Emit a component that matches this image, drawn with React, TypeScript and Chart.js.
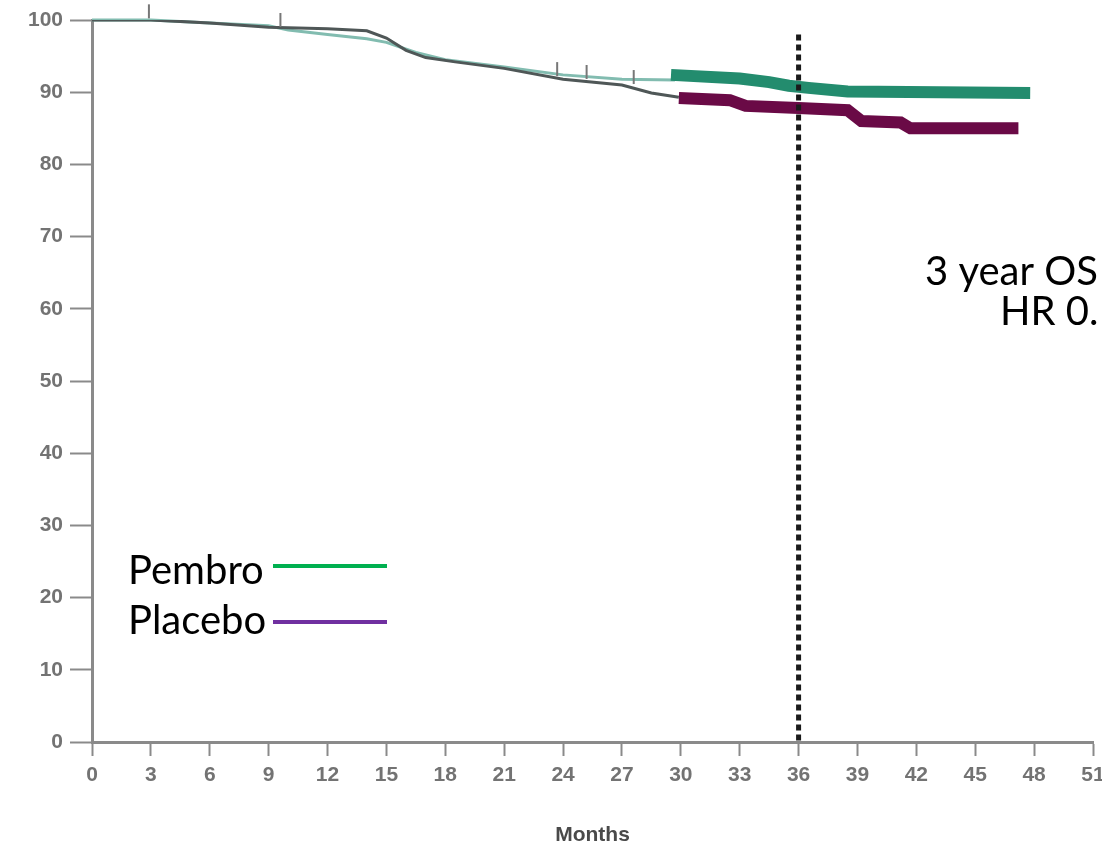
import React, { useEffect, useRef } from "react";
import { Chart, registerables } from "chart.js";

Chart.register(...registerables);

// Months tick labels
const xTicks = [0, 3, 6, 9, 12, 15, 18, 21, 24, 27, 30, 33, 36, 39, 42, 45, 48, 51];
const yTicks = [0, 10, 20, 30, 40, 50, 60, 70, 80, 90, 100];

// Early (thin) portion of curves
const pembroEarlyMonths = [0, 3, 6, 9, 10, 12, 14, 15, 16.5, 18, 21, 24, 27, 29.7];
const pembroEarlyOS = [100, 100, 99.6, 99.2, 98.6, 98.0, 97.4, 96.9, 95.5, 94.5, 93.5, 92.4, 91.8, 91.7];
const placeboEarlyMonths = [0, 3, 6, 9, 12, 14, 15, 16, 17, 18.5, 21, 24, 27, 28.5, 29.9];
const placeboEarlyOS = [100, 100, 99.6, 99.0, 98.8, 98.5, 97.5, 95.8, 94.8, 94.2, 93.3, 91.8, 91.0, 89.9, 89.3];

// Late (thick, highlighted) portion
const pembroLateMonths = [29.5, 33, 34.5, 35.5, 36.5, 38.5, 47.8];
const pembroLateOS = [92.4, 91.9, 91.4, 90.9, 90.6, 90.1, 89.9];
const placeboLateMonths = [29.9, 32.5, 33.3, 36, 38.5, 39.2, 41.2, 41.7, 47.2];
const placeboLateOS = [89.2, 88.9, 88.1, 87.8, 87.5, 86.0, 85.8, 85.0, 85.0];

// Censor marks
const censorMonths = [2.9, 9.6, 23.7, 25.2, 27.6];
const censorOS = [101.2, 100.0, 93.2, 92.8, 92.1];

// 3-year landmark line
const landmarkMonths = [36, 36];
const landmarkOS = [98, 0];

const zip = (xs: number[], ys: number[]) => xs.map((x, i) => ({ x, y: ys[i] }));

const textPlugin = {
  id: "annotText",
  afterDraw(chart: any) {
    const ctx = chart.ctx;
    ctx.save();
    ctx.font = "40px Lato, 'Open Sans', sans-serif";
    ctx.fillStyle = "#000";
    ctx.textBaseline = "alphabetic";
    ctx.textAlign = "left";
    ctx.fillText("3 year OS", 925, 285);
    ctx.fillText("HR 0.", 1000, 325);
    ctx.fillText("Pembro", 128, 584);
    ctx.fillText("Placebo", 128, 634);
    ctx.lineWidth = 4;
    ctx.strokeStyle = "#00B050";
    ctx.beginPath();
    ctx.moveTo(273, 566);
    ctx.lineTo(387, 566);
    ctx.stroke();
    ctx.strokeStyle = "#7030A0";
    ctx.beginPath();
    ctx.moveTo(273, 622);
    ctx.lineTo(387, 622);
    ctx.stroke();
    ctx.restore();
  },
};

export default function App() {
  const ref = useRef<HTMLCanvasElement | null>(null);
  useEffect(() => {
    if (!ref.current) return;
    const tickFont = { family: "'Liberation Sans Narrow', 'Liberation Sans', Arial, sans-serif", size: 21, weight: "bold" as const };
    const chart = new Chart(ref.current, {
      type: "line",
      data: {
        datasets: [
          {
            label: "landmark",
            data: zip(landmarkMonths, landmarkOS),
            borderColor: "#1a1a1a",
            borderWidth: 5,
            borderDash: [6, 4],
            pointRadius: 0,
            borderCapStyle: "butt",
          },
          {
            label: "censor",
            data: zip(censorMonths, censorOS),
            showLine: false,
            pointStyle: "line",
            rotation: 90,
            pointRadius: 7,
            borderColor: "#777",
            borderWidth: 2,
            clip: false,
          } as any,
          {
            label: "Pembro late",
            data: zip(pembroLateMonths, pembroLateOS),
            borderColor: "#238c6e",
            borderWidth: 12,
            pointRadius: 0,
            borderCapStyle: "butt",
          },
          {
            label: "Placebo late",
            data: zip(placeboLateMonths, placeboLateOS),
            borderColor: "#6a0a46",
            borderWidth: 12,
            pointRadius: 0,
            borderCapStyle: "butt",
          },
          {
            label: "Placebo",
            data: zip(placeboEarlyMonths, placeboEarlyOS),
            borderColor: "#4f5757",
            borderWidth: 3,
            pointRadius: 0,
          },
          {
            label: "Pembro",
            data: zip(pembroEarlyMonths, pembroEarlyOS),
            borderColor: "#82bcb0",
            borderWidth: 3,
            pointRadius: 0,
            clip: false,
          } as any,
        ],
      },
      options: {
        animation: false,
        responsive: false,
        layout: { padding: { top: 20, right: 7, left: 0, bottom: 0 } },
        plugins: { legend: { display: false }, tooltip: { enabled: false } },
        scales: {
          x: {
            type: "linear",
            min: 0,
            max: 51,
            afterBuildTicks: (s: any) => {
              s.ticks = xTicks.map((v) => ({ value: v }));
            },
            afterFit: (s: any) => {
              s.height = 110;
              s.paddingLeft = 0;
              s.paddingRight = 0;
            },
            ticks: { color: "#737373", font: tickFont, padding: 7, maxRotation: 0, autoSkip: false },
            grid: { drawOnChartArea: false, tickLength: 14, tickColor: "#8a8a8a", tickWidth: 2 },
            border: { color: "#8a8a8a", width: 3 },
            title: {
              display: true,
              text: "Months",
              color: "#4a4a4a",
              font: { family: "'Liberation Sans Narrow', 'Liberation Sans', Arial, sans-serif", size: 21, weight: "bold" },
              padding: { top: 24 },
            },
          },
          y: {
            min: 0,
            max: 100,
            afterBuildTicks: (s: any) => {
              s.ticks = yTicks.map((v) => ({ value: v }));
            },
            afterFit: (s: any) => {
              s.width = 92;
              s.paddingTop = 0;
              s.paddingBottom = 0;
            },
            ticks: { color: "#737373", font: tickFont, padding: 7 },
            grid: { drawOnChartArea: false, tickLength: 22, tickColor: "#8a8a8a", tickWidth: 2 },
            border: { color: "#8a8a8a", width: 3 },
          },
        },
      },
      plugins: [textPlugin],
    });
    return () => chart.destroy();
  }, []);
  return (
    <div style={{ position: "absolute", left: 0, top: 0, width: 1102, height: 852, background: "#fff" }}>
      <canvas ref={ref} width={1102} height={852} style={{ display: "block" }} />
    </div>
  );
}
